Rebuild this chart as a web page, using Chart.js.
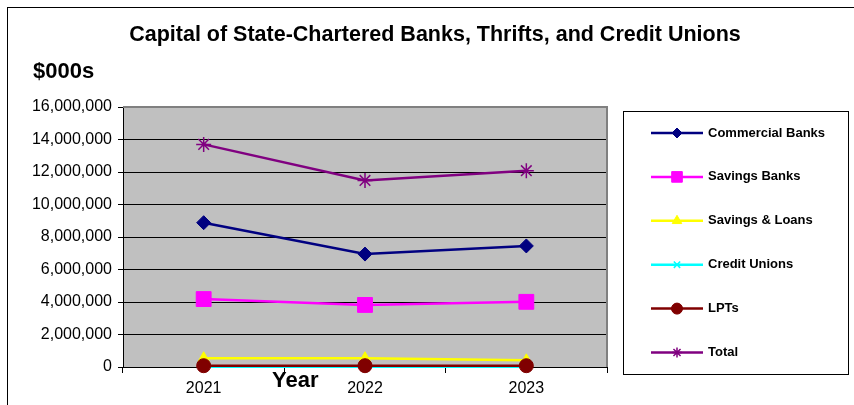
<!DOCTYPE html>
<html>
<head>
<meta charset="utf-8">
<script src="https://cdn.jsdelivr.net/npm/chart.js@4/dist/chart.umd.min.js"></script>
<style>
  html, body { margin: 0; padding: 0; background: #fff; }
  #wrap { width: 854px; height: 405px; }
</style>
</head>
<body>
<div id="wrap"><canvas id="c" width="854" height="405"></canvas></div>
<script>
const years = ['2021', '2022', '2023'];
const commercialBanks = [8880000, 6950000, 7450000];
const savingsBanks = [4180000, 3820000, 4010000];
const savingsLoans = [540000, 540000, 410000];
const creditUnions = [20000, 20000, 20000];
const lpts = [80000, 80000, 80000];
const total = [13700000, 11480000, 12080000];
const seriesNames = ['Commercial Banks', 'Savings Banks', 'Savings & Loans', 'Credit Unions', 'LPTs', 'Total'];
const yTicks = [0, 2000000, 4000000, 6000000, 8000000, 10000000, 12000000, 14000000, 16000000];

const FONT = '"Liberation Sans", Arial, sans-serif';

const styles = [
  { color: '#000080', pointStyle: 'rectRot', radius: 7, lradius: 5, fill: true },
  { color: '#FF00FF', pointStyle: 'rect', radius: 10.5, lradius: 7.5, fill: true },
  { color: '#FFFF00', pointStyle: 'triangle', radius: 6.5, lradius: 5.5, fill: true },
  { color: '#00FFFF', pointStyle: 'crossRot', radius: 5, lradius: 4.5, fill: false },
  { color: '#800000', pointStyle: 'circle', radius: 7, lradius: 5.5, fill: true },
  { color: '#800080', pointStyle: 'star', radius: 7.5, lradius: 5, fill: false }
];
const values = [commercialBanks, savingsBanks, savingsLoans, creditUnions, lpts, total];

const datasets = values.map((v, i) => ({
  label: seriesNames[i],
  data: v,
  borderColor: styles[i].color,
  backgroundColor: styles[i].color,
  pointBackgroundColor: styles[i].fill ? styles[i].color : 'rgba(0,0,0,0)',
  pointBorderColor: styles[i].color,
  pointStyle: styles[i].pointStyle,
  pointRadius: styles[i].radius,
  pointBorderWidth: styles[i].fill ? 1 : 1.5,
  borderWidth: 2.5,
  tension: 0,
  clip: false,
  order: values.length - i
}));

const decor = {
  id: 'decor',
  beforeDraw(chart) {
    const ctx = chart.ctx;
    const a = chart.chartArea;
    ctx.save();
    ctx.fillStyle = '#fff';
    ctx.fillRect(0, 0, chart.width, chart.height);
    ctx.fillStyle = '#C0C0C0';
    ctx.fillRect(a.left, a.top, a.right - a.left, a.bottom - a.top);
    ctx.restore();
  },
  beforeDatasetsDraw(chart) {
    const ctx = chart.ctx;
    const a = chart.chartArea;
    ctx.save();
    ctx.strokeStyle = '#808080';
    ctx.lineWidth = 2;
    ctx.beginPath();
    ctx.moveTo(a.left, a.top);
    ctx.lineTo(a.right, a.top);
    ctx.lineTo(a.right, a.bottom);
    ctx.stroke();
    ctx.restore();
  },
  afterDraw(chart) {
    const ctx = chart.ctx;
    ctx.save();
    // outer frame
    ctx.strokeStyle = '#000';
    ctx.lineWidth = 1;
    ctx.strokeRect(7.5, 7.5, 900, 500);
    // title
    ctx.fillStyle = '#000';
    ctx.textBaseline = 'middle';
    ctx.textAlign = 'center';
    ctx.font = 'bold 21.5px ' + FONT;
    ctx.fillText('Capital of State-Chartered Banks, Thrifts, and Credit Unions', 435, 35);
    ctx.textAlign = 'left';
    ctx.font = 'bold 22px ' + FONT;
    ctx.fillText('$000s', 33, 72);
    ctx.fillText('Year', 272, 381);
    // legend
    ctx.strokeRect(623.5, 111.5, 225, 263);
    chart.data.datasets.forEach((ds, i) => {
      const y = 133 + i * 43.9;
      ctx.strokeStyle = ds.borderColor;
      ctx.lineWidth = 2.5;
      ctx.beginPath();
      ctx.moveTo(651, y);
      ctx.lineTo(703, y);
      ctx.stroke();
      ctx.fillStyle = ds.pointBackgroundColor;
      ctx.strokeStyle = ds.pointBorderColor;
      ctx.lineWidth = ds.pointBorderWidth;
      Chart.helpers.drawPoint(ctx, { pointStyle: ds.pointStyle, radius: styles[i].lradius, rotation: 0, borderWidth: ds.pointBorderWidth }, 677, y);
      ctx.fillStyle = '#000';
      ctx.font = 'bold 13px ' + FONT;
      ctx.textAlign = 'left';
      ctx.textBaseline = 'middle';
      ctx.fillText(ds.label, 708, y);
    });
    ctx.restore();
  }
};

new Chart(document.getElementById('c'), {
  type: 'line',
  data: { labels: years, datasets },
  options: {
    responsive: false,
    animation: false,
    devicePixelRatio: 1,
    layout: { padding: { left: 0, right: 247, top: 107, bottom: 0 } },
    plugins: { legend: { display: false }, title: { display: false }, tooltip: { enabled: false } },
    scales: {
      x: {
        type: 'category',
        offset: true,
        grid: { display: true, offset: true, drawOnChartArea: false, drawTicks: true, tickLength: 6, color: '#000', tickColor: '#000' },
        border: { display: true, color: '#000', width: 1 },
        ticks: { color: '#000', font: { family: FONT, size: 16 }, padding: 6, maxRotation: 0 },
        afterFit(scale) { scale.height = 38; }
      },
      y: {
        min: 0,
        max: 16000000,
        afterBuildTicks(scale) { scale.ticks = yTicks.map(v => ({ value: v })); },
        grid: { color: '#000', lineWidth: 1, drawTicks: true, tickLength: 5, tickColor: '#000' },
        border: { display: true, color: '#000', width: 1 },
        ticks: {
          color: '#000',
          font: { family: FONT, size: 16 },
          padding: 6,
          callback: v => v.toLocaleString('en-US')
        },
        afterFit(scale) { scale.width = 123; }
      }
    }
  },
  plugins: [decor]
});
</script>
</body>
</html>
